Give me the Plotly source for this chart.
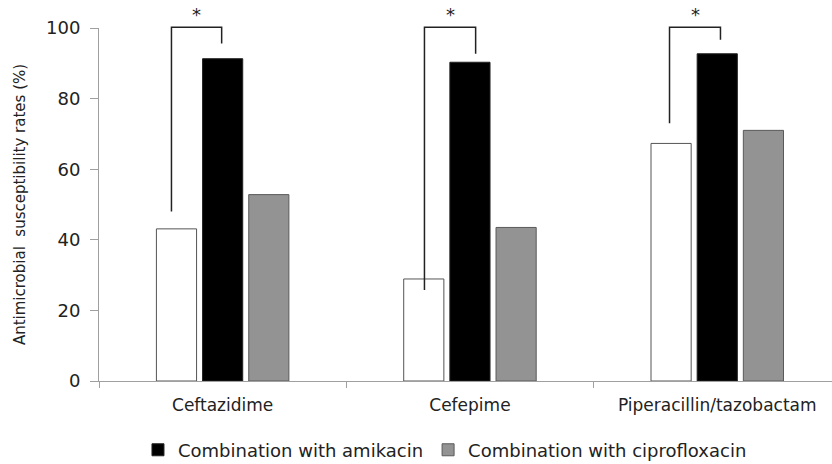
import plotly.graph_objects as go

categories = ["Ceftazidime", "Cefepime", "Piperacillin/tazobactam"]
mono = [43.1, 28.9, 67.3]
amikacin = [91.3, 90.3, 92.7]
cipro = [52.8, 43.5, 71.0]
y_ticks = [0, 20, 40, 60, 80, 100]
y_range = [0, 100]

# significance brackets: left leg x offset, right leg x offset, left bottom, right bottom, top
br_left = [-0.207, -0.184, -0.193]
br_right = [-0.004, 0.023, 0.013]
br_left_bottom = [48.0, 25.8, 73.0]
br_right_bottom = [95.6, 92.7, 96.7]
br_top = 100.2
star_y = 103.9

font_family = "DejaVu Sans, sans-serif"


def to_paper(v):
    return (v - y_range[0]) / (y_range[1] - y_range[0])


fig = go.Figure()
fig.add_trace(go.Bar(x=categories, y=mono, name="Monotherapy", showlegend=False,
                     marker=dict(color="white", line=dict(color="#555555", width=1))))
fig.add_trace(go.Bar(x=categories, y=amikacin, name="Combination with amikacin",
                     marker=dict(color="black", line=dict(color="#222222", width=1))))
fig.add_trace(go.Bar(x=categories, y=cipro, name="Combination with ciprofloxacin",
                     marker=dict(color="#939393", line=dict(color="#5a5a5a", width=1))))

for i in range(len(categories)):
    xl = i + br_left[i]
    xr = i + br_right[i]
    path = (f"M {xl},{to_paper(br_left_bottom[i])} L {xl},{to_paper(br_top)} "
            f"L {xr},{to_paper(br_top)} L {xr},{to_paper(br_right_bottom[i])}")
    fig.add_shape(type="path", path=path, xref="x", yref="paper",
                  line=dict(color="#222222", width=1.5))
    fig.add_annotation(x=(xl + xr) / 2, y=to_paper(star_y), text="*", showarrow=False,
                       xref="x", yref="paper", yanchor="middle",
                       font=dict(size=18, color="#222222", family=font_family))

fig.update_layout(
    width=832, height=464,
    margin=dict(l=99, r=0, t=28, b=83),
    paper_bgcolor="white", plot_bgcolor="white",
    barmode="group", bargap=0.44, bargroupgap=0.13,
    font=dict(family=font_family, color="#222222"),
    legend=dict(orientation="h", x=0.472, xanchor="center",
                yref="container", y=0.03, yanchor="middle",
                font=dict(size=18, color="#222222"), itemwidth=30, traceorder="normal"),
    xaxis=dict(range=[-0.5, 2.464], showline=True, linecolor="#a0a0a0", linewidth=1,
               ticks="outside", tickson="boundaries", ticklen=6, tickcolor="#a0a0a0",
               ticklabelstandoff=9,
               tickfont=dict(size=17, color="#222222"), showgrid=False, automargin=False),
    yaxis=dict(range=y_range, tickvals=y_ticks, showline=True, linecolor="#a0a0a0",
               linewidth=1, ticks="outside", ticklen=8, tickcolor="#a0a0a0",
               ticklabelstandoff=6,
               tickfont=dict(size=18, color="#222222"), showgrid=False, zeroline=False,
               automargin=False,
               title=dict(text="Antimicrobial  susceptibility rates (%)",
                          font=dict(size=15, color="#222222"), standoff=16)),
)

fig.write_html("out.html", config={"displayModeBar": False},
               post_script="document.body.style.margin='0';")
